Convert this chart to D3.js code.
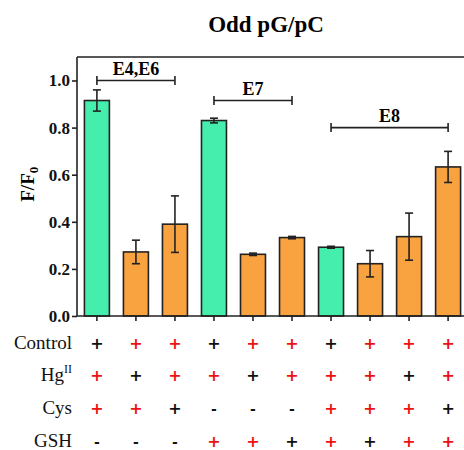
<!DOCTYPE html>
<html>
<head>
<meta charset="utf-8">
<script src="https://cdn.jsdelivr.net/npm/d3@7"></script>
<style>
  body { margin: 0; background: #fff; }
  svg { display: block; }
</style>
</head>
<body>
<div id="chart"></div>
<script>
// bar values (F/F0), with error half-widths
const groups = ['g1', 'g2', 'g3', 'g4', 'g5', 'g6', 'g7', 'g8', 'g9', 'g10'];
const values = [0.915, 0.272, 0.39, 0.83, 0.262, 0.333, 0.292, 0.222, 0.337, 0.633];
const errors = [0.045, 0.05, 0.12, 0.01, 0.005, 0.005, 0.004, 0.056, 0.10, 0.066];
const isControl = [true, false, false, true, false, false, true, false, false, false];
const yTicks = [0, 0.2, 0.4, 0.6, 0.8, 1.0];

// bracket annotations: [first index, last index, y value, label]
const brackets = [
  [0, 2, 1.0, 'E4,E6'],
  [3, 5, 0.915, 'E7'],
  [6, 9, 0.80, 'E8'],
];

// condition table below the bars: symbol + colour per cell (k = black, r = red)
const rowLabels = ['Control', 'Hg', 'Cys', 'GSH'];
const rowSymbols = [
  ['+', '+', '+', '+', '+', '+', '+', '+', '+', '+'],
  ['+', '+', '+', '+', '+', '+', '+', '+', '+', '+'],
  ['+', '+', '+', '-', '-', '-', '+', '+', '+', '+'],
  ['-', '-', '-', '+', '+', '+', '+', '+', '+', '+'],
];
const rowColors = [
  ['k', 'r', 'r', 'k', 'r', 'r', 'k', 'r', 'r', 'r'],
  ['r', 'k', 'r', 'r', 'k', 'r', 'r', 'r', 'k', 'r'],
  ['r', 'r', 'k', 'k', 'k', 'k', 'r', 'r', 'r', 'k'],
  ['k', 'k', 'k', 'r', 'r', 'k', 'r', 'k', 'r', 'r'],
];

const SERIF = '"Liberation Serif", "Times New Roman", serif';
const width = 464, height = 450;
const margin = { top: 57, left: 77, bottom: 134 };
const plotRight = 468;
const plotBottom = height - margin.bottom;

const svg = d3.select('#chart').append('svg')
  .attr('width', width).attr('height', height)
  .attr('font-family', SERIF);

const x = d3.scaleBand().domain(groups)
  .range([margin.left, plotRight])
  .paddingInner(0.36).paddingOuter(0.19);
const y = d3.scaleLinear().domain([0, 1]).range([plotBottom, 80.5]);
const cx = (i) => x(groups[i]) + x.bandwidth() / 2;

// title
svg.append('text')
  .attr('x', 266).attr('y', 32)
  .attr('text-anchor', 'middle')
  .attr('font-family', SERIF)
  .attr('font-size', 23).attr('font-weight', 700)
  .text('Odd pG/pC');

// y label F/F0
const yl = svg.append('text')
  .attr('transform', `translate(34,${y(0.5) - 14}) rotate(-90)`)
  .attr('text-anchor', 'middle')
  .attr('font-family', SERIF)
  .attr('font-size', 19).attr('font-weight', 700);
yl.append('tspan').text('F/F');
yl.append('tspan').attr('font-size', 13).attr('dy', 4).text('0');

// frame (top and right edges)
svg.append('path')
  .attr('d', `M${margin.left},${margin.top}H${plotRight}V${plotBottom}`)
  .attr('fill', 'none').attr('stroke', '#222').attr('stroke-width', 1.6);

// bars
svg.append('g').selectAll('rect').data(values).join('rect')
  .attr('x', (d, i) => x(groups[i]))
  .attr('y', (d) => y(d))
  .attr('width', x.bandwidth())
  .attr('height', (d) => y(0) - y(d))
  .attr('fill', (d, i) => isControl[i] ? '#46eeae' : '#f9a240')
  .attr('stroke', '#222').attr('stroke-width', 1.6);

// error bars
const eb = svg.append('g').attr('stroke', '#222').attr('stroke-width', 1.6);
values.forEach((v, i) => {
  const c = cx(i);
  eb.append('line').attr('x1', c).attr('x2', c).attr('y1', y(v + errors[i])).attr('y2', y(v - errors[i]));
  eb.append('line').attr('x1', c - 4).attr('x2', c + 4).attr('y1', y(v + errors[i])).attr('y2', y(v + errors[i]));
  eb.append('line').attr('x1', c - 4).attr('x2', c + 4).attr('y1', y(v - errors[i])).attr('y2', y(v - errors[i]));
});

// y axis
const yAxis = svg.append('g')
  .attr('transform', `translate(${margin.left},0)`)
  .call(d3.axisLeft(y).tickValues(yTicks).tickFormat(d3.format('.1f')).tickSize(5).tickPadding(2));
yAxis.attr('font-family', SERIF);
yAxis.select('.domain').attr('d', `M0,${margin.top}V${plotBottom}`).attr('stroke', '#222').attr('stroke-width', 1.6);
yAxis.selectAll('.tick line').attr('stroke', '#222').attr('stroke-width', 1.6);
yAxis.selectAll('.tick text')
  .attr('font-size', 17).attr('font-weight', 700).attr('fill', '#111');

// x axis: baseline + ticks only
const xAxis = svg.append('g')
  .attr('transform', `translate(0,${plotBottom})`)
  .call(d3.axisBottom(x).tickSize(5).tickFormat(''));
xAxis.select('.domain').attr('d', `M${margin.left},0H${plotRight}`).attr('stroke', '#222').attr('stroke-width', 1.6);
xAxis.selectAll('.tick line').attr('stroke', '#222').attr('stroke-width', 1.6);

// brackets
const br = svg.append('g');
brackets.forEach(([a, b, v, label]) => {
  const yy = y(v);
  br.append('path')
    .attr('d', `M${cx(a)},${yy - 4.5}V${yy + 4.5}M${cx(a)},${yy}H${cx(b)}M${cx(b)},${yy - 4.5}V${yy + 4.5}`)
    .attr('fill', 'none').attr('stroke', '#222').attr('stroke-width', 1.6);
  br.append('text')
    .attr('x', (cx(a) + cx(b)) / 2).attr('y', yy - 6)
    .attr('text-anchor', 'middle')
    .attr('font-family', SERIF)
    .attr('font-size', 18).attr('font-weight', 700)
    .text(label);
});

// condition table
const rowY = [343, 375, 408, 441];
const table = svg.append('g');
rowLabels.forEach((lab, r) => {
  const t = table.append('text')
    .attr('x', 72).attr('y', rowY[r] + 6)
    .attr('text-anchor', 'end')
    .attr('font-family', SERIF)
    .attr('font-size', 19).attr('fill', '#111');
  t.append('tspan').text(lab);
  if (lab === 'Hg') t.append('tspan').attr('font-size', 12).attr('dy', -8).text('II');
  rowSymbols[r].forEach((s, i) => {
    table.append('text')
      .attr('x', cx(i)).attr('y', rowY[r] + 6)
      .attr('text-anchor', 'middle')
      .attr('font-family', '"DejaVu Sans", sans-serif')
      .attr('font-size', s === '+' ? 16 : 14).attr('font-weight', 700)
      .attr('fill', rowColors[r][i] === 'r' ? '#ee1111' : '#111')
      .text(s);
  });
});
</script>
</body>
</html>
